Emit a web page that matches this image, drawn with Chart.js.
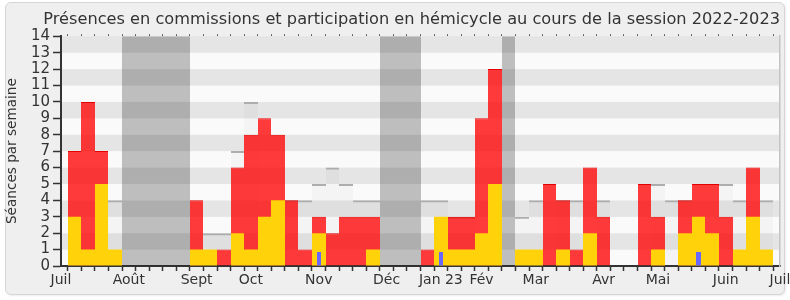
<!DOCTYPE html>
<html><head><meta charset="utf-8">
<script src="https://cdn.jsdelivr.net/npm/chart.js@4"></script>
<style>
html,body{margin:0;padding:0;background:#fff;}
#frame{position:absolute;left:5px;top:2px;width:778px;height:291px;border:1px solid #d6d6d6;border-radius:6px;background:#efefef;box-shadow:1px 1px 2px rgba(0,0,0,0.08);}
#wrap{position:absolute;left:0;top:0;width:790px;height:300px;}
</style></head><body>
<div id="frame"></div>
<div id="wrap"><canvas id="c" width="790" height="300"></canvas></div>
<script>
// week slots (0 and 53 are the axis ends)
const weeks = ['S00','S01','S02','S03','S04','S05','S06','S07','S08','S09','S10','S11','S12','S13','S14','S15','S16','S17','S18','S19','S20','S21','S22','S23','S24','S25','S26','S27','S28','S29','S30','S31','S32','S33','S34','S35','S36','S37','S38','S39','S40','S41','S42','S43','S44','S45','S46','S47','S48','S49','S50','S51','S52','S53'];
const tickLabels = ['Juil','Août','Sept','Oct','Nov','Déc','Jan 23','Fév','Mar','Avr','Mai','Juin','Juil'];
const tickWeeks  = [0,5,10,14,19,24,28,31,35,40,44,49,53];
const N = null;
// présences en commission
const commission = [N,7,10,7,N,N,N,N,N,N,4,N,1,6,8,9,8,4,1,3,2,3,3,3,N,N,N,1,N,3,3,9,12,N,N,N,5,4,1,6,3,N,N,5,3,N,4,5,5,3,N,6,N,N];
// participations en hémicycle
const hemicycle = [N,3,1,5,1,N,N,N,N,N,1,1,N,2,1,3,4,N,N,2,N,N,N,1,N,N,N,N,3,1,1,2,5,N,1,1,N,1,N,2,N,N,N,N,1,N,2,3,2,N,1,3,1,N];
// questions orales
const questions = [N,N,N,N,N,N,N,N,N,N,N,N,N,N,N,N,N,N,N,0.85,N,N,N,N,N,N,N,N,0.85,N,N,N,N,N,N,N,N,N,N,N,N,N,N,N,N,N,N,0.85,N,N,N,N,N,N];
// présence médiane (visible part only; null where hidden behind the red bars)
const mediane = [N,N,N,N,4,N,N,N,N,N,N,2,2,7,10,N,N,4,4,5,6,5,4,4,N,N,N,4,4,3,3,N,N,N,3,4,N,4,4,N,4,N,N,N,5,4,4,N,N,5,4,N,4,N];
// vacances parlementaires
const vacances = [N,N,N,N,N,14,14,14,14,14,N,N,N,N,N,N,N,N,N,N,N,N,N,N,14,14,14,N,N,N,N,N,N,14,N,N,N,N,N,N,N,N,N,N,N,N,N,N,N,N,N,N,N,N];

const stripes = {
  id: 'stripes',
  beforeDraw(chart) {
    const {ctx, chartArea: a, scales: {y}} = chart;
    ctx.save();
    for (let k = 0; k < 14; k++) {
      ctx.fillStyle = (k % 2) ? '#e5e5e5' : '#fafafa';
      const t = y.getPixelForValue(k + 1), b = y.getPixelForValue(k);
      ctx.fillRect(a.left, t, a.right - a.left, b - t);
    }
    ctx.restore();
  }
};
// snap bar edges to whole pixels so adjacent translucent bars do not leave seams
const snap = {
  id: 'snap',
  afterDatasetsUpdate(chart) {
    chart.getSortedVisibleDatasetMetas().forEach(meta => {
      meta.data.forEach(el => {
        if (el.x == null || isNaN(el.x)) return;
        const l = Math.round(el.x - el.width / 2), r = Math.round(el.x + el.width / 2);
        el.x = (l + r) / 2; el.width = r - l;
      });
    });
  }
};

const FONT = 'DejaVu Sans';
new Chart(document.getElementById('c'), {
  type: 'bar',
  data: {
    labels: weeks,
    datasets: [
      {label: 'Questions orales', data: questions, backgroundColor: 'rgb(104,104,255)', order: 0, barPercentage: 0.32},
      {label: 'Hémicycle', data: hemicycle, backgroundColor: 'rgb(255,210,10)', order: 1},
      {label: 'Commission', data: commission, backgroundColor: 'rgba(255,0,0,0.77)', borderColor: 'rgb(230,0,0)', borderWidth: {top: 1, left: 0, right: 0, bottom: 0}, order: 2},
      {label: 'Médiane', data: mediane, backgroundColor: 'rgba(0,0,0,0.025)', borderColor: '#adadad', borderWidth: {top: 2, left: 0, right: 0, bottom: 0}, order: 3},
      {label: 'Vacances', data: vacances, backgroundColor: 'rgba(0,0,0,0.24)', order: 4}
    ]
  },
  options: {
    responsive: false,
    animation: false,
    events: [],
    datasets: {bar: {grouped: false, categoryPercentage: 1, barPercentage: 1, borderSkipped: false, inflateAmount: 0}},
    layout: {padding: {left: 4, right: 10, top: 0, bottom: 4}},
    plugins: {
      legend: {display: false},
      tooltip: {enabled: false},
      title: {display: true, align: 'end', text: 'Présences en commissions et participation en hémicycle au cours de la session 2022-2023',
        color: '#333', font: {family: FONT, size: 16.2, weight: 'normal'}, padding: {top: 10.4, bottom: 3.4}}
    },
    scales: {
      x: {
        type: 'category', offset: false, position: 'bottom',
        grid: {drawOnChartArea: false, tickLength: 5, tickColor: '#333', tickWidth: 1.5},
        border: {display: true, color: '#333', width: 2},
        ticks: {autoSkip: false, maxRotation: 0, minRotation: 0, padding: 1, color: '#333', font: {family: FONT, size: 14},
          callback: (v, i) => { const k = tickWeeks.indexOf(i); return k >= 0 ? tickLabels[k] : ''; }},
        afterFit: s => { s.height = 30; s.paddingLeft = 0; s.paddingRight = 0; }
      },
      x2: {
        type: 'category', offset: false, position: 'top', labels: weeks,
        grid: {drawOnChartArea: false, tickLength: 2, tickColor: '#555', tickWidth: 1},
        border: {display: false},
        ticks: {display: false, autoSkip: false},
        afterFit: s => { s.height = 3; s.paddingLeft = 0; s.paddingRight = 0; }
      },
      y: {
        min: 0, max: 14, position: 'left',
        ticks: {stepSize: 1, autoSkip: false, color: '#333', padding: 3, font: {family: FONT, size: 15}},
        grid: {drawOnChartArea: false, tickLength: 8, tickColor: '#333', tickWidth: 1.5},
        border: {display: true, color: '#333', width: 2},
        title: {display: true, text: 'Séances par semaine', color: '#333', font: {family: FONT, size: 13.6}, padding: {top: 0, bottom: 0}},
        afterFit: s => { s.width = 57; s.paddingTop = 0; s.paddingBottom = 0; }
      },
      yR: {
        min: 0, max: 14, position: 'right',
        ticks: {display: false},
        grid: {display: false},
        border: {display: true, color: '#c4c4c4', width: 1.5},
        afterFit: s => { s.width = 0; }
      }
    }
  },
  plugins: [stripes, snap]
});
</script>
</body></html>
